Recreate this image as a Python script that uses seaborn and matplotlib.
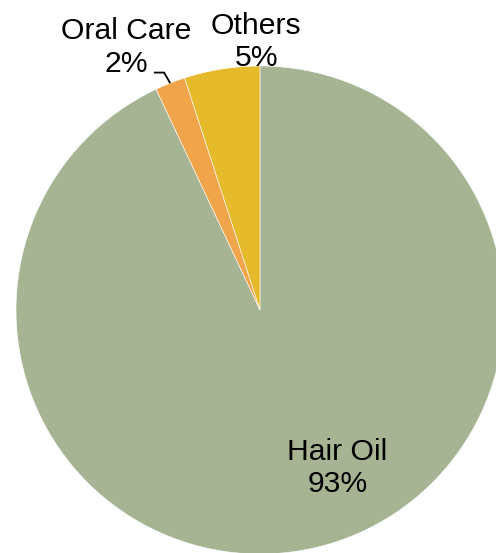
import numpy as np
import matplotlib
matplotlib.use("Agg")
import matplotlib.pyplot as plt
import seaborn as sns

sns.set_theme(style="white")
plt.rcParams['font.family'] = ['Liberation Sans', 'DejaVu Sans']

# data
categories = ["Hair Oil", "Oral Care", "Others"]
shares = [93, 2, 5]
colors = ["#A6B493", "#F1A54A", "#E5BB2C"]

# label positions (data units, pie radius = 1)
label_pos = {"Hair Oil": (0.318, -0.647), "Oral Care": (-0.549, 1.076), "Others": (-0.015, 1.098)}

fig = plt.figure(figsize=(4.96, 5.53), dpi=100)
ax = fig.add_axes([0, 0, 1, 1])

wedges, _ = ax.pie(shares, colors=colors, startangle=90, counterclock=False,
                   radius=1, center=(0, 0),
                   wedgeprops=dict(edgecolor="white", linewidth=0.4))

# view window: centre at (260, 310) px, radius 244 px
scale = 244.0
ax.set_xlim(-260 / scale, (496 - 260) / scale)
ax.set_ylim(-(553 - 310) / scale, 310 / scale)
ax.set_aspect("auto")
ax.axis("off")

for cat, val in zip(categories, shares):
    x, y = label_pos[cat]
    ax.text(x, y, f"{cat}\n{val}%", ha="center", va="center",
            fontsize=21.7, color="black", linespacing=1.2)

# leader line for Oral Care
w = wedges[1]
mid = np.deg2rad((w.theta1 + w.theta2) / 2)
ax_, ay_ = np.cos(mid), np.sin(mid)
ax.plot([-0.435, -0.393, ax_], [0.973, 0.973, ay_], color="black", lw=1.3,
        solid_capstyle="butt", clip_on=False)

fig.savefig("out.png", dpi=100)
